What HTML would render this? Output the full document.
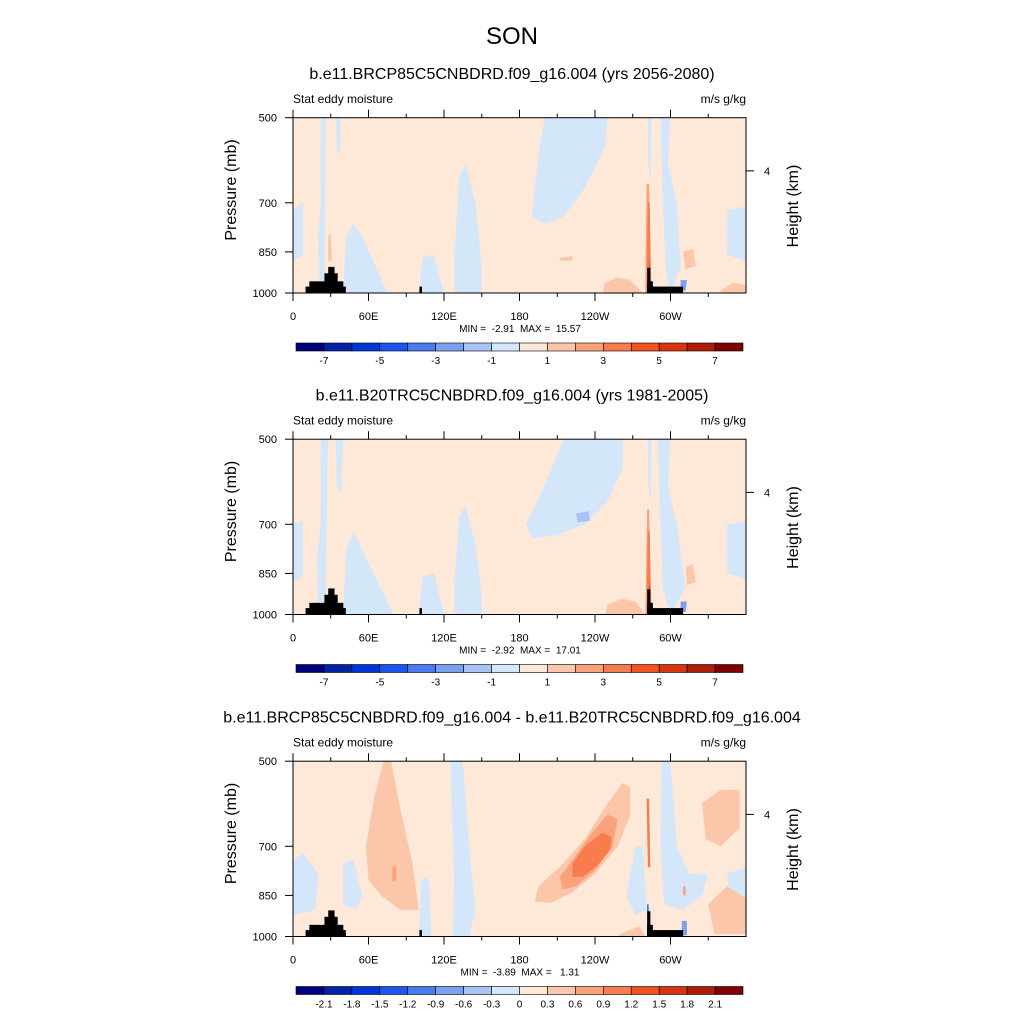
<!DOCTYPE html>
<html><head><meta charset="utf-8"><style>
html,body{margin:0;padding:0;background:#fff;width:1024px;height:1024px;overflow:hidden}
svg{display:block;font-family:"Liberation Sans",sans-serif}
text{white-space:pre}
</style></head><body>
<svg id="chart" width="1024" height="1024" viewBox="0 0 1024 1024" xmlns="http://www.w3.org/2000/svg">
<text x="512" y="44" font-size="24" text-anchor="middle">SON</text>
</svg>
<script>
const lonTicks=[0,60,120,180,240,300];
const lonLabels=['0','60E','120E','180','120W','60W'];
const lonMinor=[30,90,150,210,270,330];
const pTicks=[500,700,850,1000];
const heightTicks=[617];
const heightLabels=['4'];
const colors=['#00007f','#0022a8','#0036d8','#1a55f0','#4a7cf0','#7aa0f0','#a8c4f4','#d4e6fa','#fee8d8','#fbc6aa','#f9a27c','#f77c4e','#f2521e','#d83410','#b01c08','#7f0000'];
const cbLabels1=['-7','-5','-3','-1','1','3','5','7'];
const cbLabelIdx1=[1,3,5,7,9,11,13,15];
const cbLabels3=['-2.1','-1.8','-1.5','-1.2','-0.9','-0.6','-0.3','0','0.3','0.6','0.9','1.2','1.5','1.8','2.1'];
const titles=['b.e11.BRCP85C5CNBDRD.f09_g16.004 (yrs 2056-2080)','b.e11.B20TRC5CNBDRD.f09_g16.004 (yrs 1981-2005)','b.e11.BRCP85C5CNBDRD.f09_g16.004 - b.e11.B20TRC5CNBDRD.f09_g16.004'];
const minmax=['MIN =  -2.91  MAX =  15.57','MIN =  -2.92  MAX =  17.01','MIN =  -3.89  MAX =   1.31'];
// terrain bars: [lon start, lon end, top pressure]
const terrainBars=[[10,42,975],[13,40,955],[25,35.5,925],[28,33,902],[100.5,102.5,975],[281.5,310,975],[281.5,286,955],[281.5,284,905]];
const regions1=[
[7,[[0,720],[8,700],[8,860],[0,880]]],
[7,[[22,500],[26,500],[26,560],[25,990],[21,990],[20,800],[22,700]]],
[7,[[34,500],[38,500],[37,580],[35,570]]],
[7,[[40,990],[42,800],[48,760],[55,800],[75,1000],[46,1000]]],
[7,[[103,870],[112,860],[120,1000],[100,1000]]],
[7,[[128,880],[132,630],[137,600],[145,700],[150,900],[150,1000],[128,1000]]],
[7,[[200,500],[250,500],[248,560],[232,660],[215,740],[200,760],[190,740],[192,660],[196,560]]],
[7,[[282,500],[285,500],[284,640],[282,600]]],
[7,[[292,500],[300,500],[298,600],[305,700],[308,900],[300,1000],[296,900],[294,700]]],
[7,[[345,720],[360,710],[360,880],[345,860]]],
[9,[[248,960],[258,940],[268,950],[278,1000],[246,1000]]],
[9,[[340,990],[350,960],[360,970],[360,1000],[340,1000]]],
[9,[[310,850],[318,840],[320,900],[312,910]]],
[9,[[212,870],[222,865],[222,880],[212,880]]],
[9,[[28,800],[30,790],[31,880],[28,880]]],
[5,[[308,950],[313,950],[312,990],[308,990]]],
[10,[[280,1000],[281,650],[283,650],[285,1000]]],
[11,[[281,1000],[282,700],[283.5,700],[284.5,1000]]],
[14,[[282.5,1000],[283,880],[283.8,1000]]]
];
const regions2=[
[7,[[0,700],[8,690],[8,860],[0,880]]],
[7,[[22,500],[28,500],[27,600],[26,990],[20,990],[19,800],[22,700]]],
[7,[[34,500],[40,500],[38,620],[35,600]]],
[7,[[40,990],[42,780],[48,720],[58,800],[80,1000],[46,1000]]],
[7,[[103,860],[112,850],[120,1000],[100,1000]]],
[7,[[128,900],[132,680],[137,650],[145,760],[150,920],[150,1000],[128,1000]]],
[7,[[215,500],[262,500],[262,560],[250,640],[232,700],[210,730],[190,740],[185,700],[200,600]]],
[6,[[225,670],[235,665],[236,690],[226,695]]],
[7,[[282,500],[285,500],[284,640],[282,600]]],
[7,[[290,500],[300,500],[298,600],[305,700],[312,900],[300,1000],[294,900],[292,700]]],
[7,[[345,700],[360,690],[360,870],[345,850]]],
[9,[[250,960],[262,940],[272,950],[280,1000],[248,1000]]],
[9,[[312,830],[318,820],[320,880],[313,890]]],
[5,[[308,950],[313,950],[312,990],[308,990]]],
[10,[[280,1000],[281.5,660],[283,660],[285,1000]]],
[11,[[281,1000],[282,720],[283.5,720],[284.5,1000]]],
[14,[[282.5,1000],[283,870],[283.8,1000]]]
];
const regions3=[
[7,[[0,740],[8,720],[20,780],[18,900],[0,920]]],
[7,[[40,750],[48,740],[55,850],[50,900],[40,880]]],
[7,[[125,500],[135,500],[140,700],[145,900],[140,1000],[127,1000],[128,800]]],
[7,[[102,800],[108,790],[110,1000],[100,1000]]],
[7,[[293,500],[300,500],[305,700],[315,780],[330,780],[325,850],[310,900],[295,880],[292,700]]],
[7,[[272,700],[278,700],[281,900],[272,920],[265,850]]],
[7,[[345,780],[360,760],[360,900],[348,880]]],
[9,[[262,545],[268,555],[268,620],[258,700],[240,780],[222,840],[205,875],[192,870],[195,820],[212,760],[232,680],[250,590]]],
[10,[[250,617],[258,630],[254,700],[240,770],[225,820],[214,830],[212,790],[222,740],[236,670]]],
[11,[[246,663],[253,675],[252,710],[242,755],[230,790],[222,790],[222,750],[232,700]]],
[9,[[58,700],[65,570],[72,500],[78,500],[85,600],[95,750],[100,900],[85,900],[70,850],[60,800]]],
[10,[[79,760],[82,755],[82,800],[79,805]]],
[9,[[325,590],[340,560],[355,560],[355,650],[340,700],[328,680]]],
[9,[[330,880],[345,820],[360,860],[360,990],[335,990]]],
[9,[[260,990],[275,960],[280,1000],[258,1000]]],
[11,[[281,580],[283,580],[284,760],[282,760]]],
[3,[[281.5,880],[282.5,880],[283,995],[281.5,995]]],
[5,[[309,940],[313,940],[313,995],[309,995]]],
[10,[[310,820],[312,820],[312,850],[310,850]]]
];
const allRegions=[regions1,regions2,regions3];
const svg=document.getElementById('chart');
const NS='http://www.w3.org/2000/svg';
const X0=293,X1=746,PTOP=117.7,PBOT=293,CBX0=296,CBX1=743;
const offsets=[0,321.5,643.5];
function xs(lon){return X0+(lon/360)*(X1-X0);}
function ys(p,o){return o+PBOT-(Math.log(1000/p)/Math.log(2))*(PBOT-PTOP);}
function mk(tag,attrs,parent){const e=document.createElementNS(NS,tag);for(const k in attrs)e.setAttribute(k,attrs[k]);(parent||svg).appendChild(e);return e;}
function txt(s,x,y,size,anchor,parent){const t=mk('text',{x:x,y:y,'font-size':size,'text-anchor':anchor||'start'},parent);t.textContent=s;return t;}
for(let i=0;i<3;i++){
  const o=offsets[i];
  const g=mk('g',{});
  
  
  const tt=txt(titles[i],512,o+79,16,'middle',g);
  
  
  const ls=txt('Stat eddy moisture',X0,o+103,12,'start',g);
  
  
  const rs=txt('m/s g/kg',X1,o+103,12,'end',g);
  
  
  const yt=ys(500,o),yb=ys(1000,o);
  const bg=mk('rect',{x:X0,y:yt,width:X1-X0,height:yb-yt,fill:colors[8]},g);
  
  
  for(const r of allRegions[i]){
    const pts=r[1].map(q=>xs(q[0]).toFixed(1)+','+ys(q[1],o).toFixed(1)).join(' ');
    const pg=mk('polygon',{points:pts,fill:colors[r[0]]},g);
    
    
  }
  for(const b of terrainBars){
    const tr=mk('rect',{x:xs(b[0]),y:ys(b[2],o),width:xs(b[1])-xs(b[0]),height:yb-ys(b[2],o),fill:'#000'},g);
    
    
  }
  const fr=mk('rect',{x:X0,y:yt,width:X1-X0,height:yb-yt,fill:'none',stroke:'#000','stroke-width':1},g);
  
  
  lonTicks.forEach((l,k)=>{
    mk('line',{x1:xs(l),x2:xs(l),y1:yb,y2:yb+8,stroke:'#000'},g);
    mk('line',{x1:xs(l),x2:xs(l),y1:yt,y2:yt-8,stroke:'#000'},g);
    const lb=txt(lonLabels[k],xs(l),yb+27,11,'middle',g);
    
    
  });
  lonMinor.forEach(l=>{
    mk('line',{x1:xs(l),x2:xs(l),y1:yb,y2:yb+4,stroke:'#000'},g);
    mk('line',{x1:xs(l),x2:xs(l),y1:yt,y2:yt-4,stroke:'#000'},g);
  });
  pTicks.forEach(p=>{
    mk('line',{x1:X0-8,x2:X0,y1:ys(p,o),y2:ys(p,o),stroke:'#000'},g);
    const lb=txt(String(p),X0-16,ys(p,o)+4,11,'end',g);
    
    
  });
  heightTicks.forEach((p,k)=>{
    mk('line',{x1:X1,x2:X1+8,y1:ys(p,o),y2:ys(p,o),stroke:'#000'},g);
    const lb=txt(heightLabels[k],X1+18,ys(p,o)+4,11,'start',g);
    
    
  });
  const yl=txt('Pressure (mb)',0,0,16,'middle',g);
  yl.setAttribute('transform','translate(236,'+(o+190)+') rotate(-90)');
  
  
  const hl=txt('Height (km)',0,0,16,'middle',g);
  hl.setAttribute('transform','translate(798,'+(o+206)+') rotate(-90)');
  
  
  const mm=txt(minmax[i],520,o+332,10,'middle',g);
  
  
  const cb=mk('g',{},g);
  
  
  const w=(CBX1-CBX0)/16,cy=o+343;
  colors.forEach((c,k)=>{
    const r=mk('rect',{x:CBX0+k*w,y:cy,width:w,height:8,fill:c,stroke:'#000','stroke-width':0.6},cb);
    
    
  });
  if(i<2){
    cbLabels1.forEach((s,k)=>{
      const lb=txt(s,CBX0+cbLabelIdx1[k]*w,cy+21,10,'middle',cb);
      
      
    });
  } else {
    cbLabels3.forEach((s,k)=>{
      const lb=txt(s,CBX0+(k+1)*w,cy+21,10,'middle',cb);
      
      
    });
  }
}
</script>
</body></html>
